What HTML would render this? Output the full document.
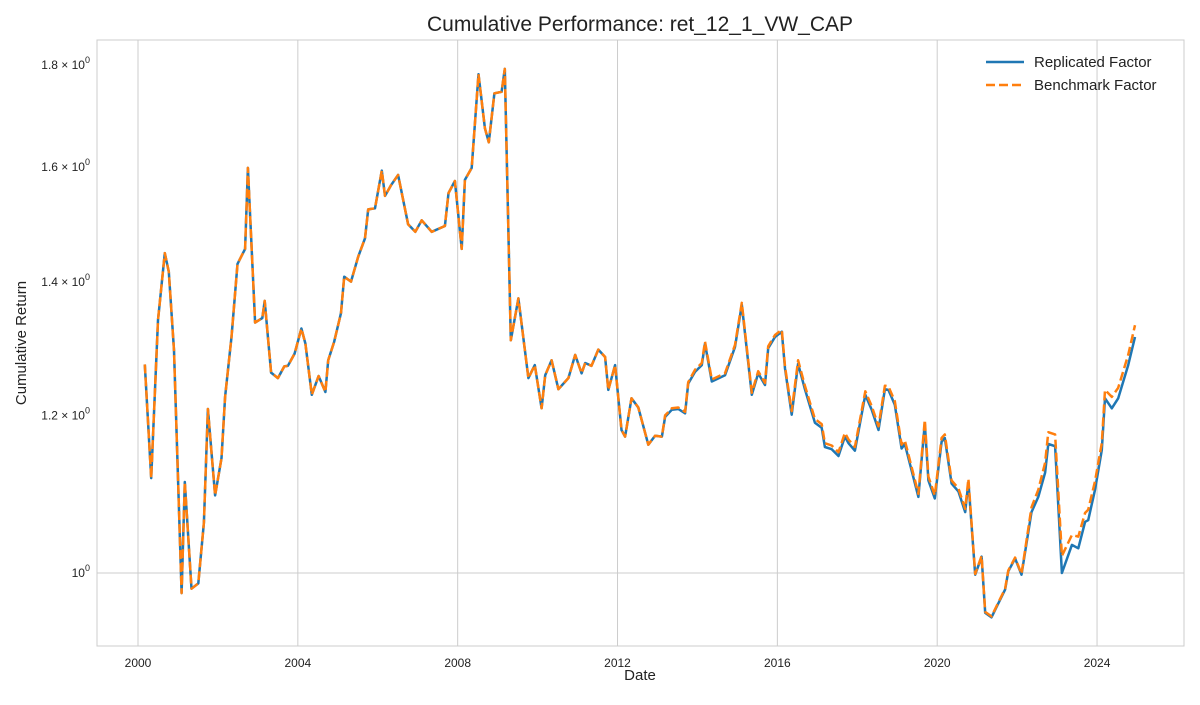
<!DOCTYPE html>
<html><head><meta charset="utf-8"><style>
body{margin:0;background:#fff;font-family:"Liberation Sans",sans-serif}
svg text{font-family:"Liberation Sans",sans-serif}
</style></head><body>
<svg id="chart" width="1200" height="700" viewBox="0 0 1200 700" xmlns="http://www.w3.org/2000/svg">
<rect x="0" y="0" width="1200" height="700" fill="#fff"/>
<text x="640" y="31" font-size="21" text-anchor="middle" fill="#222">Cumulative Performance: ret_12_1_VW_CAP</text>
<g id="grid"></g>
<g id="series"></g>
<rect x="97" y="40" width="1087" height="606" fill="none" stroke="#cccccc" stroke-width="1"/>
<g id="ticks"></g>
<text x="640" y="680" font-size="15" text-anchor="middle" fill="#222">Date</text>
<text x="26" y="343" font-size="15" text-anchor="middle" fill="#222" transform="rotate(-90 26 343)">Cumulative Return</text>
<g>
<line x1="986" y1="62" x2="1024" y2="62" stroke="#1f77b4" stroke-width="2.5"/>
<text x="1034" y="67" font-size="15" fill="#222">Replicated Factor</text>
<line x1="986" y1="85" x2="1024" y2="85" stroke="#ff7f0e" stroke-width="2.5" stroke-dasharray="9,4"/>
<text x="1034" y="90" font-size="15" fill="#222">Benchmark Factor</text>
</g>
</svg>
<script>
const dates=[2000.17,2000.33,2000.50,2000.67,2000.77,2000.90,2001.09,2001.17,2001.34,2001.51,2001.65,2001.75,2001.93,2002.09,2002.18,2002.34,2002.49,2002.68,2002.75,2002.93,2003.11,2003.17,2003.33,2003.50,2003.66,2003.75,2003.92,2004.09,2004.19,2004.35,2004.52,2004.69,2004.76,2004.91,2005.08,2005.16,2005.33,2005.51,2005.68,2005.76,2005.93,2006.10,2006.18,2006.34,2006.51,2006.76,2006.94,2007.10,2007.35,2007.68,2007.77,2007.93,2008.10,2008.18,2008.35,2008.52,2008.68,2008.78,2008.92,2009.10,2009.18,2009.33,2009.52,2009.77,2009.93,2010.10,2010.19,2010.35,2010.52,2010.77,2010.94,2011.10,2011.19,2011.35,2011.52,2011.69,2011.77,2011.94,2012.10,2012.19,2012.35,2012.52,2012.77,2012.94,2013.11,2013.19,2013.36,2013.52,2013.69,2013.77,2013.94,2014.11,2014.19,2014.36,2014.69,2014.94,2015.11,2015.36,2015.52,2015.69,2015.77,2015.94,2016.11,2016.19,2016.36,2016.52,2016.69,2016.94,2017.11,2017.19,2017.36,2017.53,2017.69,2017.78,2017.94,2018.20,2018.36,2018.53,2018.69,2018.78,2018.94,2019.11,2019.19,2019.53,2019.69,2019.78,2019.94,2020.11,2020.19,2020.36,2020.53,2020.70,2020.78,2020.95,2021.11,2021.20,2021.36,2021.70,2021.78,2021.95,2022.11,2022.36,2022.53,2022.70,2022.78,2022.95,2023.12,2023.37,2023.53,2023.70,2023.78,2023.95,2024.12,2024.20,2024.37,2024.53,2024.78,2024.95];
const replicated=[1.273,1.116,1.340,1.448,1.417,1.294,0.977,1.111,0.982,0.988,1.060,1.209,1.094,1.142,1.226,1.314,1.430,1.455,1.598,1.336,1.343,1.370,1.261,1.253,1.270,1.271,1.289,1.327,1.304,1.229,1.256,1.233,1.279,1.307,1.351,1.409,1.401,1.442,1.473,1.523,1.525,1.593,1.547,1.567,1.585,1.497,1.484,1.504,1.484,1.494,1.552,1.574,1.455,1.576,1.598,1.781,1.673,1.646,1.742,1.745,1.792,1.309,1.374,1.253,1.272,1.210,1.257,1.279,1.237,1.253,1.287,1.260,1.275,1.271,1.295,1.284,1.236,1.272,1.180,1.171,1.224,1.211,1.160,1.172,1.171,1.198,1.208,1.209,1.203,1.245,1.262,1.272,1.304,1.248,1.257,1.299,1.364,1.229,1.260,1.243,1.297,1.314,1.322,1.267,1.201,1.274,1.237,1.190,1.183,1.157,1.154,1.145,1.171,1.162,1.152,1.229,1.208,1.180,1.237,1.236,1.215,1.155,1.161,1.092,1.189,1.113,1.090,1.164,1.169,1.109,1.099,1.073,1.111,0.998,1.019,0.955,0.950,0.981,1.002,1.017,0.998,1.073,1.092,1.123,1.161,1.158,1.000,1.033,1.029,1.061,1.063,1.101,1.153,1.224,1.210,1.224,1.272,1.314];
const benchmark=[1.273,1.116,1.340,1.448,1.417,1.294,0.977,1.111,0.982,0.988,1.060,1.209,1.094,1.142,1.226,1.314,1.430,1.455,1.598,1.336,1.343,1.370,1.261,1.253,1.270,1.271,1.289,1.327,1.304,1.229,1.256,1.233,1.279,1.307,1.351,1.409,1.401,1.442,1.473,1.523,1.525,1.593,1.547,1.567,1.585,1.497,1.484,1.504,1.484,1.494,1.552,1.574,1.455,1.576,1.598,1.781,1.673,1.646,1.742,1.745,1.792,1.309,1.374,1.253,1.272,1.210,1.257,1.279,1.237,1.253,1.287,1.260,1.275,1.271,1.295,1.284,1.236,1.272,1.180,1.171,1.224,1.211,1.160,1.172,1.171,1.200,1.210,1.211,1.205,1.247,1.265,1.275,1.307,1.251,1.260,1.302,1.367,1.232,1.263,1.246,1.300,1.317,1.325,1.270,1.206,1.279,1.242,1.195,1.188,1.162,1.159,1.150,1.176,1.167,1.157,1.234,1.213,1.185,1.242,1.241,1.220,1.160,1.166,1.096,1.194,1.118,1.094,1.169,1.174,1.113,1.103,1.077,1.115,0.999,1.020,0.956,0.951,0.982,1.003,1.018,0.999,1.079,1.101,1.136,1.177,1.174,1.020,1.045,1.043,1.072,1.076,1.112,1.162,1.236,1.226,1.239,1.287,1.332];
const xTicks=[2000,2004,2008,2012,2016,2020,2024];
const yTicks=[1.0,1.2,1.4,1.6,1.8];
const yTickMant=["10","1.2","1.4","1.6","1.8"];

const NS="http://www.w3.org/2000/svg";
function xs(t){return 138+(t-2000)*39.96;}
function ys(v){return 573-1990*Math.log10(v);}
const grid=document.getElementById('grid'),ticks=document.getElementById('ticks'),ser=document.getElementById('series');
function mk(tag,attrs,parent){const e=document.createElementNS(NS,tag);for(const k in attrs)e.setAttribute(k,attrs[k]);parent.appendChild(e);return e;}
xTicks.forEach(t=>{
  const g=mk('line',{x1:xs(t),x2:xs(t),y1:40,y2:646,stroke:'#cccccc','stroke-width':1},grid);
  
  
  const l=mk('text',{x:xs(t),y:667,'font-size':12,'text-anchor':'middle',fill:'#222'},ticks);
  l.textContent=String(t);
  
  
});
yTicks.forEach((v,i)=>{
  const y=ys(v);
  if(v===1.0){
    const g=mk('line',{x1:97,x2:1184,y1:y,y2:y,stroke:'#cccccc','stroke-width':1},grid);
    
    
  }
  const l=mk('text',{x:90,y:y+4,'font-size':12,'text-anchor':'end',fill:'#222'},ticks);
  if(v===1.0){l.innerHTML='10<tspan font-size="9" dy="-6">0</tspan>';}
  else{l.innerHTML=yTickMant[i]+' \u00d7 10<tspan font-size="9" dy="-6">0</tspan>';}
  
  
});
function pts(arr){return arr.map((v,i)=>xs(dates[i]).toFixed(1)+','+ys(v).toFixed(1)).join(' ');}
const p1=mk('polyline',{points:pts(replicated),fill:'none',stroke:'#1f77b4','stroke-width':2.5,'stroke-linejoin':'round'},ser);


const p2=mk('polyline',{points:pts(benchmark),fill:'none',stroke:'#ff7f0e','stroke-width':2.5,'stroke-dasharray':'9,4','stroke-linejoin':'round'},ser);


</script>
</body></html>
